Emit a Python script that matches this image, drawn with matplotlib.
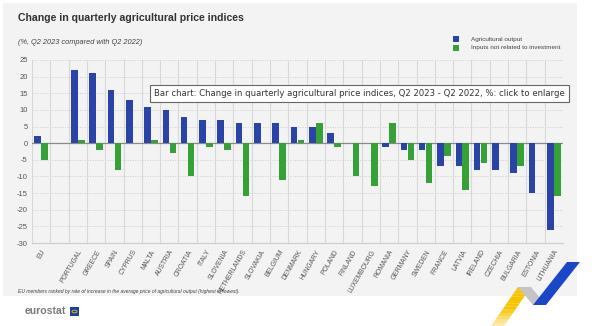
"""Quarterly agricultural price indices, Q2 2023 vs Q2 2022, by EU member."""

import matplotlib
matplotlib.use("Agg")
import matplotlib.pyplot as plt
import numpy as np
from matplotlib.patches import Rectangle, Polygon

COUNTRIES = ["EU", "", "PORTUGAL", "GREECE", "SPAIN", "CYPRUS", "MALTA", "AUSTRIA",
             "CROATIA", "ITALY", "SLOVENIA", "NETHERLANDS", "SLOVAKIA", "BELGIUM",
             "DENMARK", "HUNGARY", "POLAND", "FINLAND", "LUXEMBOURG", "ROMANIA",
             "GERMANY", "SWEDEN", "FRANCE", "LATVIA", "IRELAND", "CZECHIA",
             "BULGARIA", "ESTONIA", "LITHUANIA"]
OUTPUT = [2.2, np.nan, 22, 21, 16, 13, 11, 10, 8, 7, 7, 6, 6, 6, 5, 5, 3, 0, 0,
          -1, -2, -2, -7, -7, -8, -8, -9, -15, -26]
INPUTS = [-5, np.nan, 1, -2, -8, 0, 1, -3, -10, -1, -2, -16, 0, -11, 1, 6, -1, -10, -13,
          6, -5, -12, -4, -14, -6, 0, -7, 0, -16]
YTICKS = list(range(25, -35, -5))

BLUE = "#2944a6"
GREEN = "#36a136"
PANEL = "#f3f3f3"
W, H = 600, 326
NARROW = ["Liberation Sans", "DejaVu Sans"]


def fx(px):
    return px / W


def fy(py):
    return 1 - py / H


def fig_poly(pts, **kw):
    fig.patches.append(Polygon([(fx(a), fy(b)) for a, b in pts], closed=True,
                               transform=fig.transFigure, edgecolor="none", **kw))


fig = plt.figure(figsize=(6, 3.26), dpi=100)
fig.patch.set_facecolor("white")

# grey card behind the chart
fig.patches.append(Rectangle((fx(3), fy(296)), fx(577) - fx(3), fy(3) - fy(296),
                             transform=fig.transFigure, facecolor=PANEL,
                             edgecolor="none", zorder=-10))

ax = fig.add_axes([fx(32), fy(243), fx(563) - fx(32), fy(60) - fy(243)])
ax.set_facecolor(PANEL)
x = np.arange(len(COUNTRIES))
bw = 0.36
ax.bar(x - bw / 2 - 0.01, OUTPUT, bw, color=BLUE, zorder=3)
ax.bar(x + bw / 2 + 0.01, INPUTS, bw, color=GREEN, zorder=3)

ax.set_xlim(-0.5, len(COUNTRIES) - 0.5)
ax.set_ylim(-30, 25)
ax.set_yticks(YTICKS)
ax.set_yticklabels([str(v) for v in YTICKS], fontsize=5.5, color="#555555",
                   family=NARROW)
ax.set_xticks(x)
ax.set_xticklabels(COUNTRIES, rotation=60, ha="right", rotation_mode="anchor",
                   fontsize=4.9, color="#555555", family=NARROW)
ax.tick_params(length=0, pad=3)
ax.tick_params(axis="x", pad=4)

for v in YTICKS:
    if v == 0:
        ax.axhline(0, color="#8a8a8a", lw=0.9, zorder=2)
    elif v != -30:
        ax.axhline(v, color="#d0d0d0", lw=0.6, ls=(0, (1.5, 1.5)), zorder=1)
for b in np.arange(-0.5, len(COUNTRIES), 1):
    ax.axvline(b, color="#d8d8d8", lw=0.8, zorder=1)
for s in ["top", "right", "left"]:
    ax.spines[s].set_visible(False)
ax.spines["bottom"].set_color("#cccccc")
ax.spines["bottom"].set_linewidth(0.8)

# titles
fig.text(fx(18), fy(18), "Change in quarterly agricultural price indices",
         fontsize=7.6, fontweight="bold", color="#333333", va="center",
         family=NARROW)
fig.text(fx(18), fy(43), "(%, Q2 2023 compared with Q2 2022)", fontsize=5.3,
         fontstyle="italic", color="#444444", va="center", family=NARROW)

# legend
for yy, col, lab in [(39, BLUE, "Agricultural output"),
                     (48, GREEN, "Inputs not related to investment")]:
    fig.patches.append(Rectangle((fx(453), fy(yy + 3)), fx(6), 6 / H,
                                 transform=fig.transFigure, facecolor=col,
                                 edgecolor="none"))
    fig.text(fx(471), fy(yy), lab, fontsize=4.6, color="#444444", va="center",
             family=NARROW)

# footnote
fig.text(fx(18), fy(292),
         "EU members ranked by rate of increase in the average price of "
         "agricultural output (highest to lowest).",
         fontsize=3.6, fontstyle="italic", color="#444444", va="center",
         family=NARROW)

# enlarge hint box
fig.text(fx(154), fy(93.5),
         "Bar chart: Change in quarterly agricultural price indices, Q2 2023 - "
         "Q2 2022, %: click to enlarge",
         fontsize=6.1, color="#333333", va="center", zorder=10,
         bbox=dict(boxstyle="square,pad=0.5", facecolor="white",
                   edgecolor="#666666", linewidth=0.8))

# eurostat wordmark
fig.text(fx(25), fy(311), "eurostat", fontsize=7.6, fontweight="bold",
         color="#7a7a7a", va="center", family=NARROW)
fig.patches.append(Rectangle((fx(70), fy(316)), fx(9), 9 / H,
                             transform=fig.transFigure, facecolor="#1e3fa0",
                             edgecolor="none"))
fig.patches.append(plt.Circle((fx(74.5), fy(311.5)), 2.5 / W,
                              transform=fig.transFigure, facecolor="none",
                              edgecolor="#f2c500", lw=0.6))

# ribbon mark in the corner: yellow band fades out towards the bottom
n = 12
for i in range(n):
    y0 = 287 + (326 - 287) * i / n
    y1 = 287 + (326 - 287) * (i + 1) / n
    xl0 = 518 - (518 - 491) * i / n
    xl1 = 518 - (518 - 491) * (i + 1) / n
    fade = 1.0 if i < n / 2 else 1 - 0.8 * (i - n / 2) / (n / 2)
    fig_poly([(xl1, y1), (xl1 + 13, y1), (xl0 + 13, y0), (xl0, y0)],
             facecolor="#f6c400", alpha=fade)
fig_poly([(518, 287), (531, 287), (546, 305), (533, 305)], facecolor="#c4c4c4")
fig_poly([(533, 305), (546, 305), (580, 262), (567, 262)], facecolor="#1a47c8")

fig.savefig("out.png", dpi=100, facecolor="white")
